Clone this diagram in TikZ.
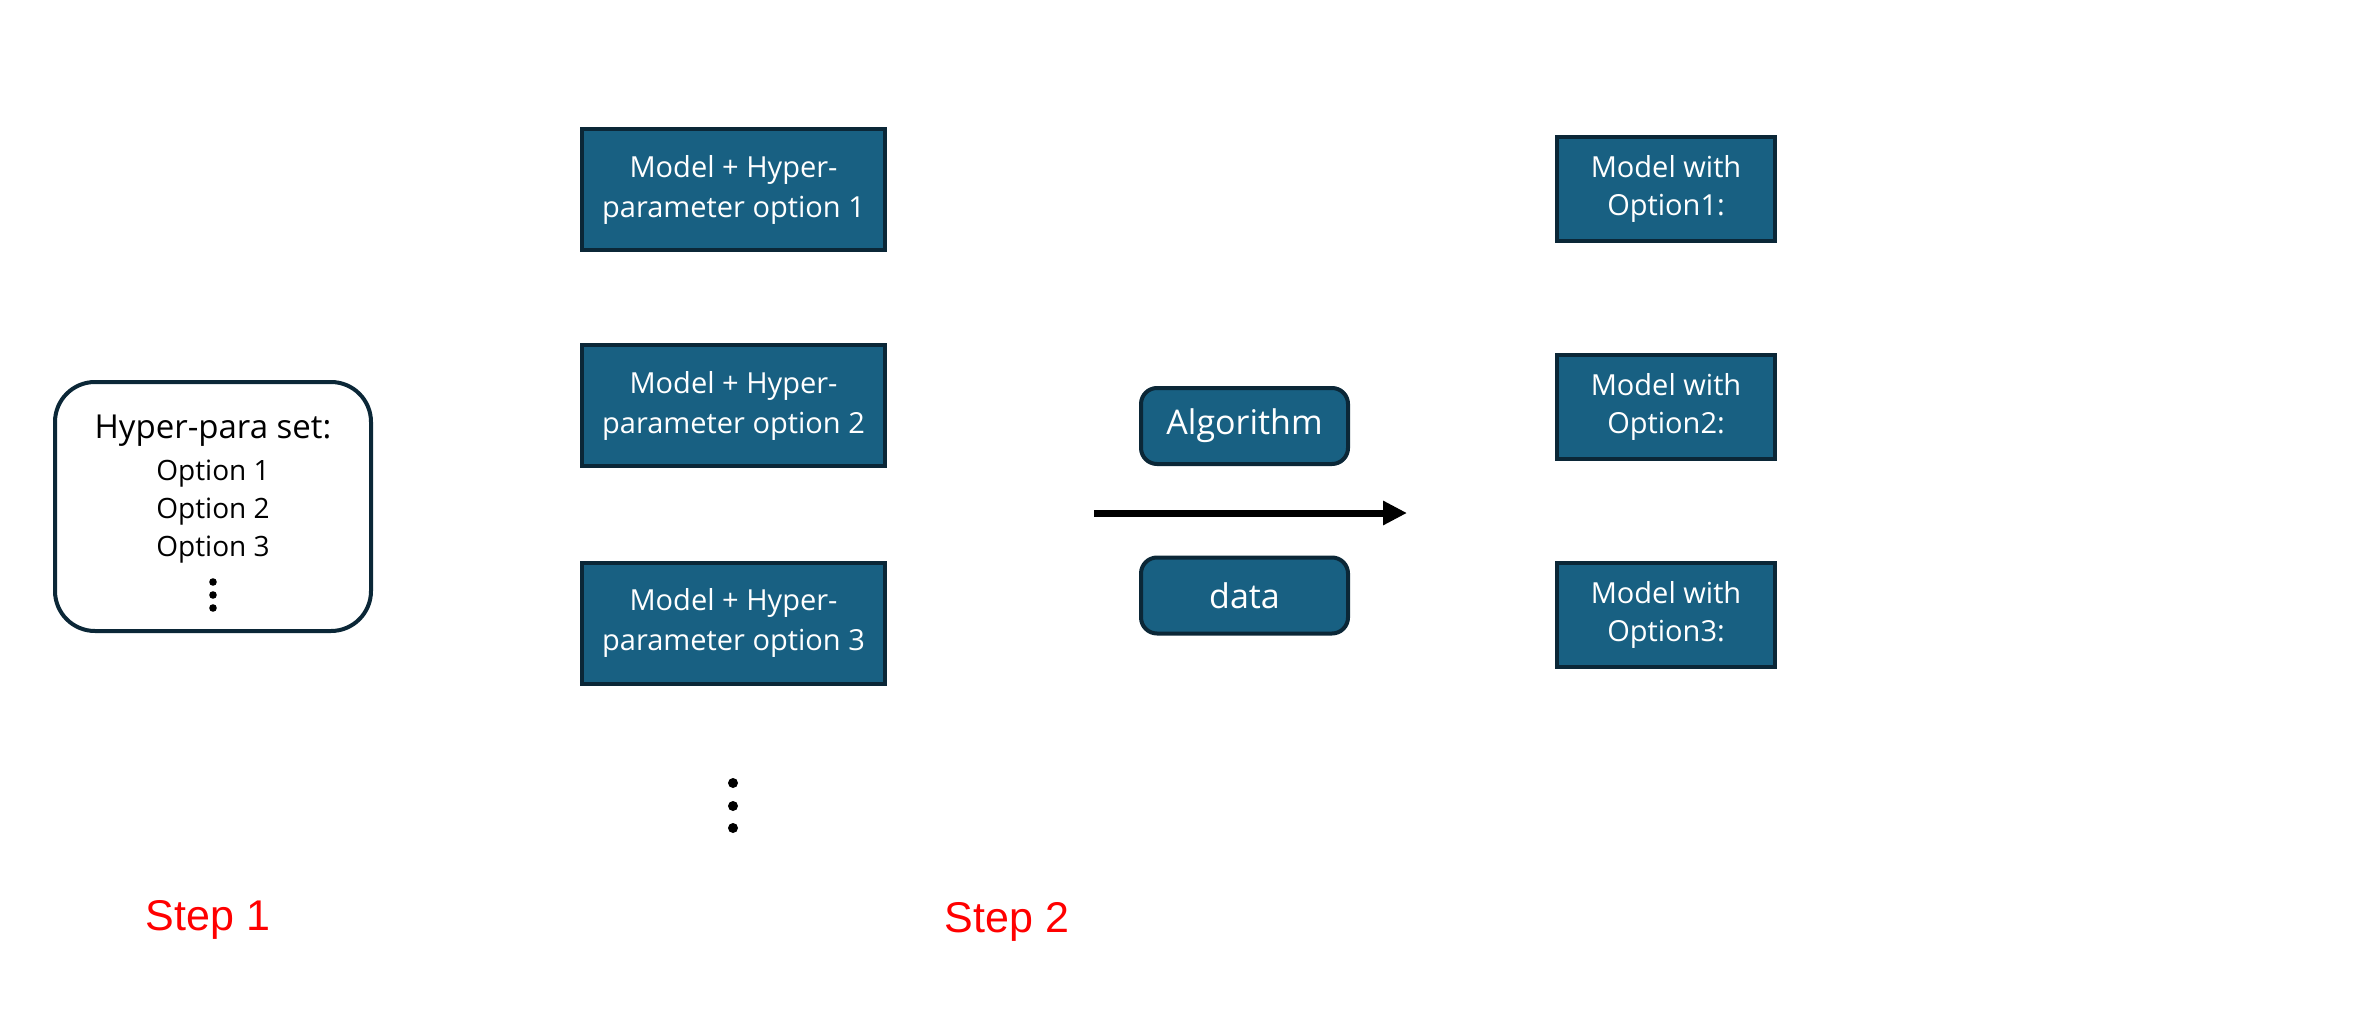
\documentclass[tikz,border=0pt]{standalone}
\usepackage{fontspec}
\setmainfont{Open Sans}
\newfontfamily\stepfont{Liberation Sans}
\usepackage{tikz}
\usetikzlibrary{positioning, arrows.meta, shapes}

\definecolor{boxfill}{RGB}{24,96,130}
\definecolor{boxline}{RGB}{11,39,55}
\definecolor{steptext}{RGB}{255,0,0}

\tikzset{
    modelbox/.style={draw=boxline, fill=boxfill, line width=4pt, rectangle,
        text=white, align=center, inner sep=0pt,
        font=\fontsize{29}{40}\selectfont},
    resultbox/.style={modelbox, minimum width=218pt, minimum height=104pt,
        font=\fontsize{29}{38}\selectfont},
    inputbox/.style={modelbox, rounded corners=16pt, minimum width=207pt,
        minimum height=76pt, font=\fontsize{34}{40}\selectfont},
    steplabel/.style={text=steptext, anchor=base, font=\stepfont\fontsize{43}{48}\selectfont}
}

\begin{document}
\begin{tikzpicture}[x=1pt, y=-1pt]
    \useasboundingbox (0,0) rectangle (2360,1032);

    % Step 1
    \node[draw=boxline, line width=4pt, rounded corners=40pt, rectangle,
        minimum width=316pt, minimum height=249pt]
        (HyperSet) at (213,506.5) {};
    \node[font=\fontsize{33}{38}\selectfont, anchor=base] (SetTitle) at (213,438) {Hyper-para set:};
    \node[font=\fontsize{28}{38}\selectfont, align=center, anchor=base]
        (SetOptions) at (213,556) {Option 1\\Option 2\\Option 3};
    \fill (213,582) circle (3.8pt) (213,595) circle (3.8pt) (213,608) circle (3.8pt);

    \node[steplabel] (StepOne) at (208,930) {Step 1};

    % Step 2
    \node[modelbox, minimum width=303pt, minimum height=121pt] (ModelA) at (733.5,189.5)
        {Model + Hyper-\\parameter option 1};
    \node[modelbox, minimum width=303pt, minimum height=121pt] (ModelB) at (733.5,405.5)
        {Model + Hyper-\\parameter option 2};
    \node[modelbox, minimum width=303pt, minimum height=121pt] (ModelC) at (733.5,623)
        {Model + Hyper-\\parameter option 3};
    \fill (733,783) circle (5pt) (733,806) circle (5pt) (733,828) circle (5pt);

    \node[inputbox] (Algorithm) at (1244.5,426) {Algorithm};
    \node[inputbox] (Data) at (1244.5,595.5) {data};

    \coordinate (TrainStart) at (1094,513);
    \coordinate (TrainEnd) at (1407,513);
    \draw[line width=7pt, -{Triangle[length=24pt, width=23pt]}] (TrainStart) -- (TrainEnd);

    \node[resultbox] (ResultA) at (1666,189) {Model with\\Option1:};
    \node[resultbox] (ResultB) at (1666,406.5) {Model with\\Option2:};
    \node[resultbox] (ResultC) at (1666,614.5) {Model with\\Option3:};

    \node[steplabel] (StepTwo) at (1007,932) {Step 2};
\end{tikzpicture}
\end{document}
